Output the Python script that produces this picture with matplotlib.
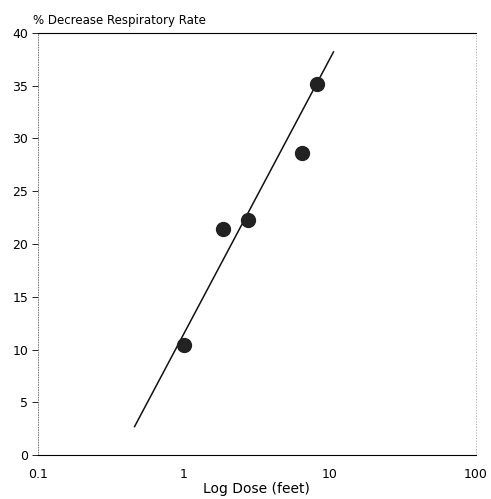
import matplotlib.pyplot as plt
from matplotlib.ticker import FixedLocator, FixedFormatter, NullLocator

# data
dose = [1.0, 1.85, 2.75, 6.5, 8.2]
decrease = [10.4, 21.4, 22.3, 28.6, 35.2]
# fitted line end points
line_dose = [0.46, 10.6]
line_decrease = [2.7, 38.2]

xticks = [0.1, 1, 10, 100]
xtick_labels = ["0.1", "1", "10", "100"]
yticks = [0, 5, 10, 15, 20, 25, 30, 35, 40]

plt.rcParams['font.family'] = ['DejaVu Sans']

fig = plt.figure(figsize=(4.91, 4.99), dpi=100)
ax = fig.add_axes([0.077, 0.088, 0.892, 0.846])

ax.plot(line_dose, line_decrease, color="#111111", lw=1.1)
ax.scatter(dose, decrease, s=100, color="#222222", zorder=3)

ax.set_xscale("log")
ax.set_xlim(0.1, 100)
ax.set_ylim(0, 40)
ax.xaxis.set_major_locator(FixedLocator(xticks))
ax.xaxis.set_major_formatter(FixedFormatter(xtick_labels))
ax.xaxis.set_minor_locator(NullLocator())
ax.set_yticks(yticks)
ax.tick_params(axis="x", length=0, pad=9, labelsize=9)
ax.tick_params(axis="y", length=4, width=0.6, direction="out", pad=3, labelsize=9)

ax.spines["top"].set_linewidth(0.8)
ax.spines["bottom"].set_linewidth(0.8)
ax.spines["left"].set_linestyle((0, (1, 2)))
ax.spines["left"].set_linewidth(0.6)
ax.spines["left"].set_color("#666666")
ax.spines["right"].set_linestyle((0, (1, 3)))
ax.spines["right"].set_linewidth(0.5)
ax.spines["right"].set_color("#999999")

ax.set_xlabel("Log Dose (feet)", fontsize=10, labelpad=1)
fig.text(0.067, 0.946, "% Decrease Respiratory Rate", fontsize=8.5, ha="left", va="bottom")

fig.savefig("out.png", dpi=100)
